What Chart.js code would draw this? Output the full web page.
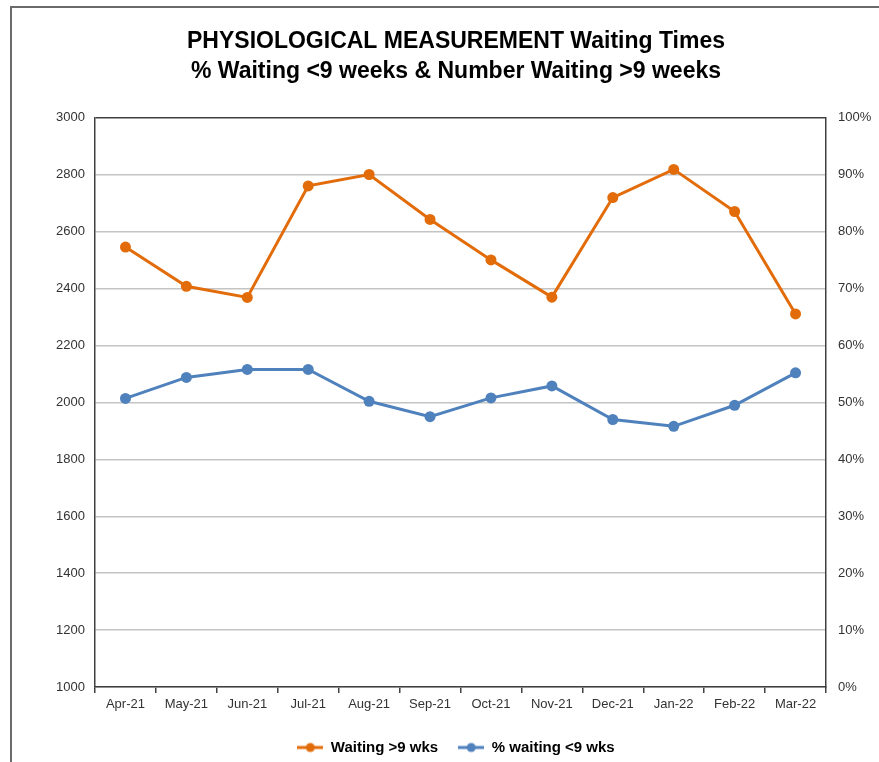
<!DOCTYPE html>
<html>
<head>
<meta charset="utf-8">
<script src="https://cdn.jsdelivr.net/npm/chart.js@4/dist/chart.umd.min.js"></script>
<style>
  html, body { margin: 0; padding: 0; background: #fff; }
  #wrap { position: relative; width: 879px; height: 762px; }
</style>
</head>
<body>
<div id="wrap"><canvas id="waitChart" width="879" height="762"></canvas></div>
<script>
// Physiological measurement waiting times, Apr-21 to Mar-22
var MONTHS = ['Apr-21', 'May-21', 'Jun-21', 'Jul-21', 'Aug-21', 'Sep-21',
  'Oct-21', 'Nov-21', 'Dec-21', 'Jan-22', 'Feb-22', 'Mar-22'];
var WAITING_OVER_9 = [2546, 2408, 2369, 2761, 2801, 2643, 2501, 2370, 2720, 2819, 2671, 2311];
var PCT_UNDER_9 = [50.7, 54.4, 55.8, 55.8, 50.2, 47.5, 50.8, 52.9, 47.0, 45.8, 49.5, 55.2];
var TITLE_LINES = ['PHYSIOLOGICAL MEASUREMENT Waiting Times',
  '% Waiting <9 weeks & Number Waiting >9 weeks'];

var ORANGE = '#E36C0A';
var BLUE = '#4F81BD';
var AXIS = '#404040';
var GRID = '#c4c4c4';
var FONT = "'Liberation Sans', Arial, sans-serif";

// legend marker: short line with a dot in the middle
function legendMarker(color) {
  var c = document.createElement('canvas');
  c.width = 26; c.height = 12;
  var g = c.getContext('2d');
  g.strokeStyle = color; g.lineWidth = 3;
  g.beginPath(); g.moveTo(0, 6); g.lineTo(26, 6); g.stroke();
  g.fillStyle = color;
  g.beginPath(); g.arc(13, 6, 4.5, 0, Math.PI * 2); g.fill();
  return c;
}

// outer frame of the original chart (runs off the right/bottom edge)
var framePlugin = {
  id: 'frame',
  beforeDraw: function (chart) {
    var ctx = chart.ctx;
    ctx.save();
    ctx.fillStyle = '#fff';
    ctx.fillRect(0, 0, chart.width, chart.height);
    ctx.strokeStyle = '#6b6b6b';
    ctx.lineWidth = 2;
    ctx.strokeRect(11, 7, 1000, 1000);
    ctx.restore();
  }
};

new Chart(document.getElementById('waitChart').getContext('2d'), {
  type: 'line',
  data: {
    labels: MONTHS,
    datasets: [{
      label: 'Waiting >9 wks',
      data: WAITING_OVER_9,
      yAxisID: 'y',
      borderColor: ORANGE,
      backgroundColor: ORANGE,
      borderWidth: 3,
      pointRadius: 5.5,
      pointBorderWidth: 0,
      pointStyle: 'circle',
      tension: 0
    }, {
      label: '% waiting <9 wks',
      data: PCT_UNDER_9,
      yAxisID: 'y1',
      borderColor: BLUE,
      backgroundColor: BLUE,
      borderWidth: 3,
      pointRadius: 5.5,
      pointBorderWidth: 0,
      pointStyle: 'circle',
      tension: 0
    }]
  },
  options: {
    responsive: false,
    animation: false,
    layout: { padding: { left: 33, right: 0, top: 0, bottom: -3 } },
    plugins: {
      title: {
        display: true,
        text: TITLE_LINES,
        color: '#000',
        font: { family: FONT, size: 23, weight: 'bold', lineHeight: 1.28 },
        padding: { top: 27, bottom: 32 }
      },
      legend: {
        position: 'bottom',
        labels: {
          color: '#000',
          font: { family: FONT, size: 15, weight: 'bold' },
          usePointStyle: true,
          pointStyleWidth: 26,
          padding: 20,
          generateLabels: function (chart) {
            return chart.data.datasets.map(function (ds, i) {
              return {
                text: ds.label,
                pointStyle: legendMarker(ds.borderColor),
                fillStyle: ds.borderColor,
                strokeStyle: ds.borderColor,
                lineWidth: 0,
                datasetIndex: i,
                fontColor: '#000'
              };
            });
          }
        }
      },
      tooltip: { enabled: false }
    },
    scales: {
      x: {
        offset: true,
        grid: {
          offset: true,
          drawOnChartArea: false,
          drawTicks: true,
          tickLength: 6,
          color: AXIS,
          lineWidth: 1.5
        },
        border: { color: AXIS, width: 1.5 },
        ticks: {
          color: '#333',
          font: { family: FONT, size: 13 },
          padding: 4,
          maxRotation: 0,
          autoSkip: false
        },
        afterFit: function (s) { s.height = 33; }
      },
      y: {
        position: 'left',
        min: 1000,
        max: 3000,
        ticks: {
          stepSize: 200,
          color: '#333',
          font: { family: FONT, size: 13 },
          padding: 10,
          callback: function (v) { return String(v); }
        },
        grid: {
          drawTicks: false,
          lineWidth: 1.5,
          color: function (ctx) {
            return ctx.tick && ctx.tick.value === 3000 ? AXIS : GRID;
          }
        },
        border: { color: AXIS, width: 1.5 },
        afterFit: function (s) { s.width = 62; }
      },
      y1: {
        position: 'right',
        min: 0,
        max: 100,
        ticks: {
          stepSize: 10,
          color: '#333',
          font: { family: FONT, size: 13 },
          padding: 12,
          callback: function (v) { return v + '%'; }
        },
        grid: { drawOnChartArea: false, drawTicks: false },
        border: { color: AXIS, width: 1.5 },
        afterFit: function (s) { s.width = 53; }
      }
    }
  },
  plugins: [framePlugin]
});
</script>
</body>
</html>
